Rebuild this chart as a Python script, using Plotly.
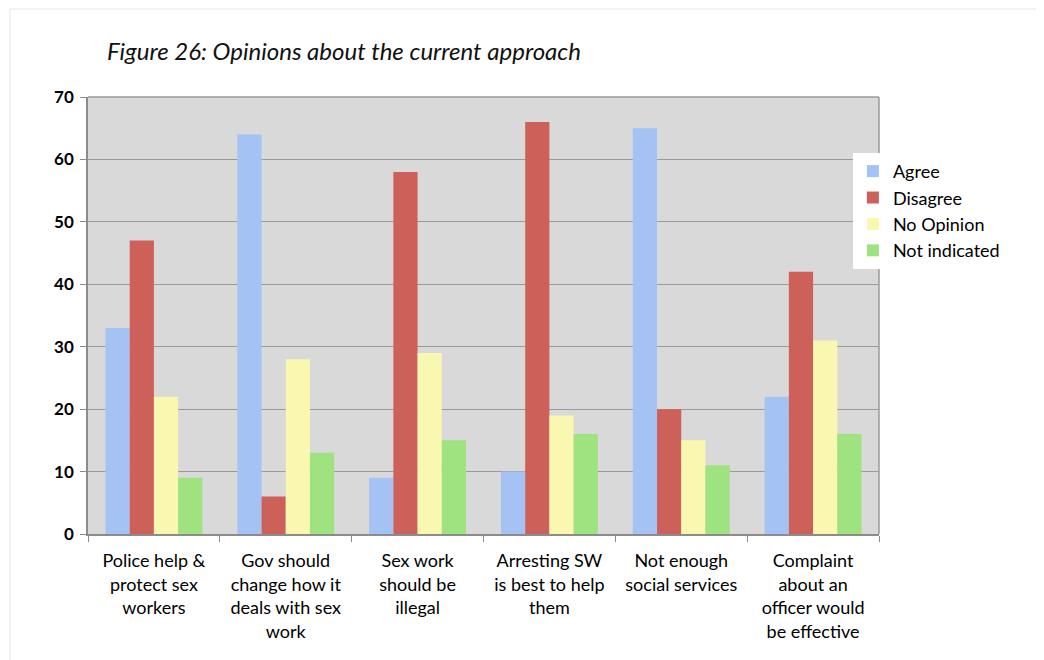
import plotly.graph_objects as go

categories = [
    "Police help &<br>protect sex<br>workers",
    "Gov should<br>change how it<br>deals with sex<br>work",
    "Sex work<br>should be<br>illegal",
    "Arresting SW<br>is best to help<br>them",
    "Not enough<br>social services",
    "Complaint<br>about an<br>officer would<br>be effective",
]
agree = [33, 64, 9, 10, 65, 22]
disagree = [47, 6, 58, 66, 20, 42]
no_opinion = [22, 28, 29, 19, 15, 31]
not_indicated = [9, 13, 15, 16, 11, 16]

series = [
    ("Agree", agree, "#a4c2f4"),
    ("Disagree", disagree, "#cd6159"),
    ("No Opinion", no_opinion, "#faf7b0"),
    ("Not indicated", not_indicated, "#9ee380"),
]

FONT = "Lato"
L, T, PW, PH = 80, 89, 791, 437
fig = go.Figure()
for name, vals, col in series:
    fig.add_trace(go.Bar(name=name, x=categories, y=vals, marker=dict(color=col, line=dict(width=0))))

fig.update_layout(
    width=1044, height=660,
    paper_bgcolor="white", plot_bgcolor="#d9d9d9",
    barmode="group", bargap=0.265, bargroupgap=0,
    margin=dict(l=L, r=1044 - L - PW, t=T, b=660 - T - PH, autoexpand=False),
    font=dict(family=FONT, color="black"),
    title=dict(text="<i>Figure 26: Opinions about the current approach</i>",
               x=99/1044, xanchor="left", y=1-44/660, yanchor="middle",
               font=dict(size=24, family=FONT, color="#111")),
    legend=dict(x=0.967, y=0.872, xanchor="left", yanchor="top",
                bgcolor="white", font=dict(size=18, family=FONT),
                itemwidth=30, tracegroupgap=0),
    shapes=[dict(type="rect", xref="paper", yref="paper", x0=-(L - 2)/PW, x1=1.0 + 200/PW,
                 y0=-0.5, y1=1 + (T - 1)/PH, line=dict(color="#e6e6e6", width=1))],
)
fig.update_xaxes(showline=True, linecolor="#8c8c8c", linewidth=1.5, mirror=False,
                 ticks="outside", tickson="boundaries", ticklen=6, tickcolor="#8c8c8c",
                 ticklabelstandoff=10,
                 tickfont=dict(size=18, family=FONT))
fig.update_yaxes(range=[0, 70], dtick=10, showline=True, linecolor="#8c8c8c", linewidth=1.5,
                 ticks="outside", ticklen=6, tickcolor="#8c8c8c",
                 gridcolor="#9a9a9a", gridwidth=1, zeroline=False,
                 ticklabelstandoff=3,
                 tickfont=dict(size=17, family=FONT, weight="bold"))
fig.add_shape(type="line", xref="paper", yref="paper", x0=0, x1=1, y0=1, y1=1,
              line=dict(color="#9a9a9a", width=1.5))
fig.add_shape(type="line", xref="paper", yref="paper", x0=1, x1=1, y0=0, y1=1,
              line=dict(color="#9a9a9a", width=1.5))
fig.write_html("out.html")
